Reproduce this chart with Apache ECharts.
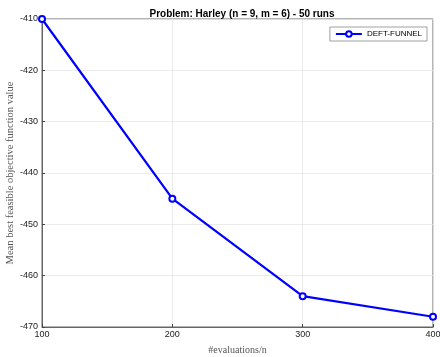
<!DOCTYPE html>
<html style="height: 100%">
   <head>
       <meta charset="utf-8">
   </head>
   <body style="height: 100%; margin: 0; background: #fff">
       <div id="container" style="width: 440px; height: 357px"></div>
       <script type="text/javascript" src="https://cdn.jsdelivr.net/npm/echarts/dist/echarts.min.js"></script>
       <script type="text/javascript">
var dom = document.getElementById("container");
var myChart = echarts.init(dom);

var evaluations = [100, 200, 300, 400];
var deftFunnel = [-410, -445, -464, -468];
var seriesName = 'DEFT-FUNNEL';

var points = [];
for (var i = 0; i < evaluations.length; i++) {
    points.push([evaluations[i], deftFunnel[i]]);
}

var labelFont = 'Liberation Sans, Arial, sans-serif';
var serifFont = 'Liberation Serif, Times New Roman, serif';

var option = {
    backgroundColor: '#fff',
    animation: false,
    title: {
        text: 'Problem: Harley (n = 9, m = 6) - 50 runs',
        left: 237,
        top: 4,
        textAlign: 'center',
        textStyle: {fontSize: 10, fontWeight: 'bold', color: '#000', fontFamily: labelFont}
    },
    legend: {
        data: [seriesName],
        right: 13,
        top: 27,
        orient: 'vertical',
        backgroundColor: '#fff',
        borderColor: '#888',
        borderWidth: 0.8,
        borderRadius: 0,
        padding: [3, 5, 3, 5],
        itemWidth: 26,
        itemHeight: 7,
        textStyle: {fontSize: 8, color: '#000', fontFamily: labelFont}
    },
    grid: {
        left: 42,
        right: 7,
        top: 19,
        bottom: 30,
        containLabel: false,
        outerBoundsMode: 'none',
        show: true,
        borderColor: '#444',
        borderWidth: 0.8
    },
    xAxis: {
        type: 'value',
        min: 100,
        max: 400,
        interval: 100,
        name: '#evaluations/n',
        nameLocation: 'middle',
        nameGap: 18,
        nameMoveOverlap: false,
        nameTextStyle: {fontSize: 10, color: '#555', fontFamily: serifFont},
        axisLine: {onZero: false, lineStyle: {color: '#444', width: 0.8}},
        axisTick: {inside: true, length: 3, lineStyle: {color: '#444'}},
        axisLabel: {fontSize: 9, color: '#222', margin: 3, fontFamily: labelFont},
        splitLine: {show: true, lineStyle: {color: '#e6e6e6', width: 0.8}}
    },
    yAxis: {
        type: 'value',
        min: -470,
        max: -410,
        interval: 10,
        name: 'Mean best feasible objective function value',
        nameLocation: 'middle',
        nameGap: 26,
        nameMoveOverlap: false,
        nameTextStyle: {fontSize: 10.5, color: '#555', fontFamily: serifFont},
        axisLine: {onZero: false, lineStyle: {color: '#444', width: 0.8}},
        axisTick: {inside: true, length: 3, lineStyle: {color: '#444'}},
        axisLabel: {fontSize: 9, color: '#222', margin: 4, fontFamily: labelFont},
        splitLine: {show: true, lineStyle: {color: '#e6e6e6', width: 0.8}}
    },
    series: [
        {
            name: seriesName,
            type: 'line',
            data: points,
            symbol: 'circle',
            symbolSize: 6,
            itemStyle: {color: '#fff', borderColor: '#0000ff', borderWidth: 2},
            lineStyle: {color: '#0000ff', width: 2.2},
            clip: false
        }
    ]
};

myChart.setOption(option, true);
       </script>
   </body>
</html>
